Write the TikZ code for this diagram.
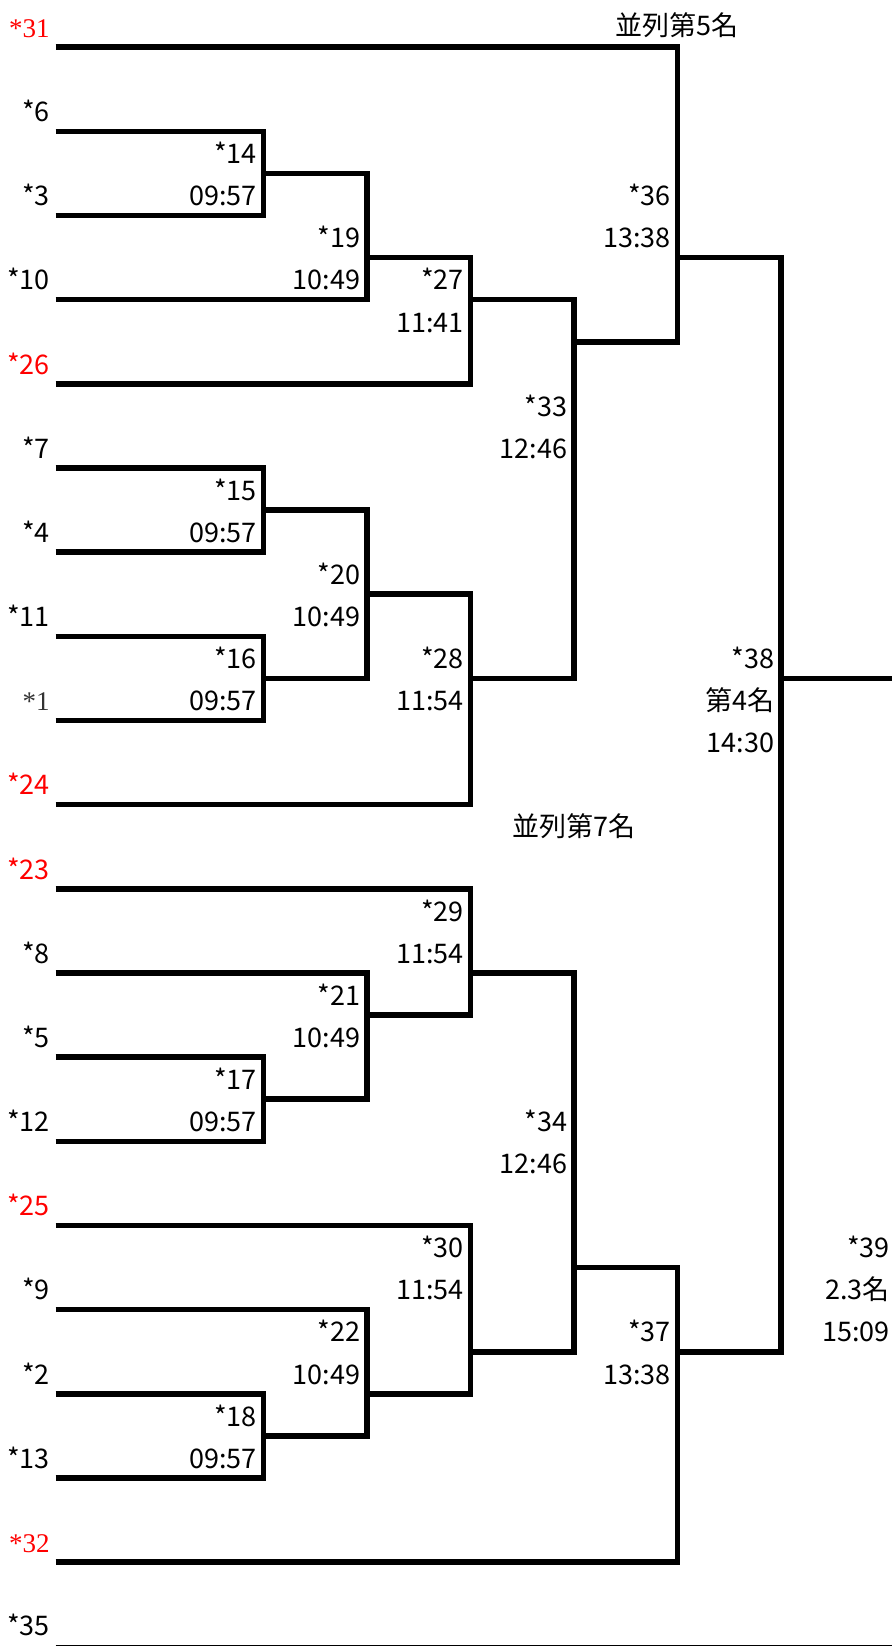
\documentclass[tikz,border=0pt]{standalone}
\usepackage{fontspec}
\setmainfont{Noto Sans CJK TC}
\newfontfamily\numserif{Liberation Serif}
\usepackage{tikz}
\tikzset{
  bracket/.style ={line width=2.8pt,line join=miter},
  tail/.style    ={line width=0.6pt},
  team/.style    ={anchor=east,inner sep=0pt,text height=0.73em,text depth=0pt,yshift=-2pt,font=\fontsize{13.5pt}{15pt}\selectfont},
  seed/.style    ={team,red},
  oldteam/.style ={team,font=\fontsize{13.5pt}{15pt}\selectfont\numserif,yshift=0pt},
  game/.style    ={team},
  rank/.style    ={anchor=center,inner sep=0pt,text height=0.73em,text depth=0pt,yshift=-2pt,font=\fontsize{13.5pt}{15pt}\selectfont},
}
\begin{document}
\begin{tikzpicture}[x=0.5pt,y=-21.04pt]
  \useasboundingbox (0,-1.1217) rectangle (892,37.994);
  % entrants, line start and label
  \foreach \n/\k in {6/2,3/4,10/6,7/10,4/12,11/14,8/22,5/24,12/26,9/30,2/32,13/34,35/37.98}{\coordinate (t\n) at (55.7,\k); \node[team](lab\n) at (50,\k-0.5){*\n};}
  \foreach \n/\k in {26/8,24/18,23/20,25/28}{\coordinate (t\n) at (55.7,\k); \node[seed](lab\n) at (50,\k-0.5){*\n};}
  \coordinate (t31) at (55.7,0);  \node[oldteam,text=red](lab31) at (50,-0.5){\numserif *31};
  \coordinate (t32) at (55.7,36); \node[oldteam,text=red](lab32) at (50,35.5){\numserif *32};
  \coordinate (t1) at (55.7,16);  \node[oldteam,text=black!80](lab1) at (50,15.5){\numserif *1};
  % games: column and row of the winner line
  \foreach \n/\c/\k in {14/1/3,15/1/11,16/1/15,17/1/25,18/1/33,19/2/5,20/2/13,21/2/23,22/2/32,27/3/6,28/3/15,29/3/22,30/3/31,33/4/7,34/4/29,36/5/5,37/5/31,38/6/15}
    \coordinate (m\n) at ({263.3+103.5*(\c-1)},\k);
  \coordinate (rEdge) at (900,15);
  \foreach \a/\b in {t6/m14,t3/m14,t7/m15,t4/m15,t11/m16,t1/m16,t5/m17,t12/m17,t2/m18,t13/m18,
                     m14/m19,t10/m19,m15/m20,m16/m20,t8/m21,m17/m21,t9/m22,m18/m22,
                     m19/m27,t26/m27,m20/m28,t24/m28,t23/m29,m21/m29,t25/m30,m22/m30,
                     m27/m33,m28/m33,m29/m34,m30/m34,t31/m36,m33/m36,m34/m37,t32/m37,m36/m38,m37/m38}
    \draw[bracket] (\a) -| (\b);
  \draw[bracket] (m38) -- (rEdge);
  \draw[tail] (t35) -- (t35 -| rEdge);
  % game number and time
  \foreach \n/\c/\k/\t in {14/1/2.5/09:57,15/1/10.5/09:57,16/1/14.5/09:57,17/1/24.5/09:57,18/1/32.5/09:57,
                           19/2/4.5/10:49,20/2/12.5/10:49,21/2/22.5/10:49,22/2/30.5/10:49,
                           27/3/5.5/11:41,28/3/14.5/11:54,29/3/20.5/11:54,30/3/28.5/11:54,
                           33/4/8.5/12:46,34/4/25.5/12:46,36/5/3.5/13:38,37/5/30.5/13:38}{
    \node[game](no\n) at ({257+103.5*(\c-1)},\k){*\n};
    \node[game](tm\n) at ({257+103.5*(\c-1)},\k+1){\t};}
  \node[game](no38) at (774.5,14.5){*38};
  \node[game](rk38) at (774.5,15.5){第4名};
  \node[game](tm38) at (774.5,16.5){14:30};
  \node[game](no39) at (890,28.5){*39};
  \node[game](rk39) at (890,29.5){2.3名};
  \node[game](tm39) at (890,30.5){15:09};
  \node[rank](tie5) at (677.3,-0.55){並列第5名};
  \node[rank](tie7) at (573.8,18.5){並列第7名};
\end{tikzpicture}
\end{document}
